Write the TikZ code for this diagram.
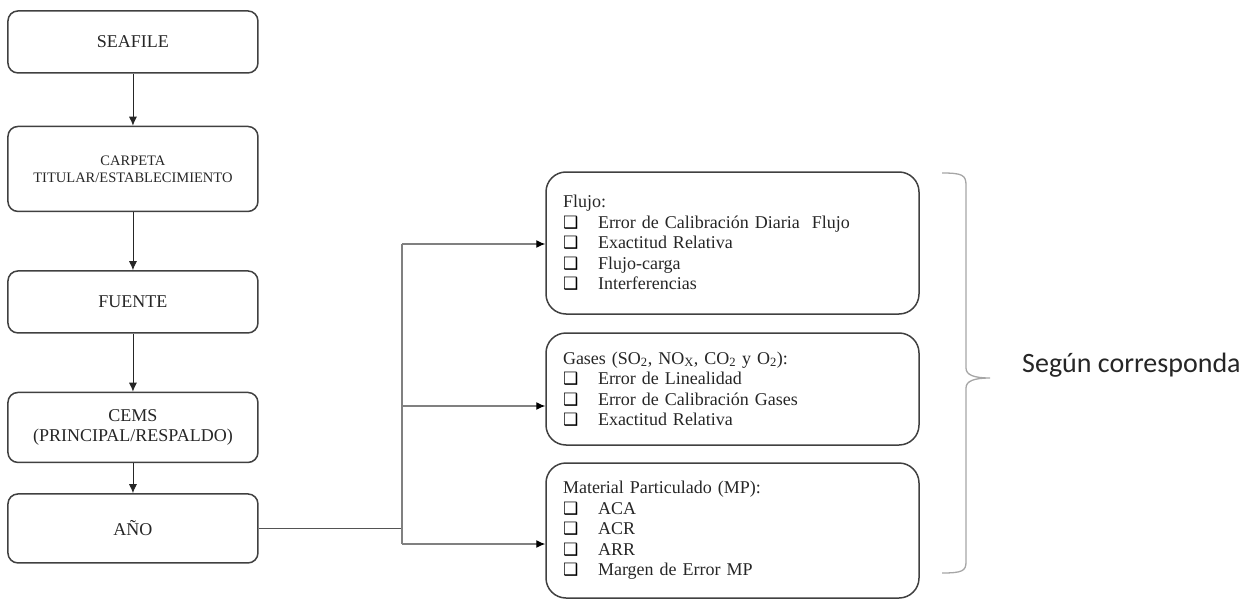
\documentclass[tikz,border=0pt]{standalone}
\usepackage{fontspec}
\usepackage{tikz}
\usetikzlibrary{arrows.meta}
\setmainfont{Liberation Serif}
\newfontfamily\calibri{Carlito}
\newfontfamily\dingfont{DejaVu Sans}

\definecolor{boxgray}{HTML}{404040}
\definecolor{wiregray}{HTML}{808080}
\definecolor{bracegray}{HTML}{A6A6A6}

% checkbox item inside the right boxes
\newcommand{\chkitem}[1]{\makebox[35pt][l]{\raisebox{0pt}{\dingfont\fontsize{17}{17}\selectfont\color{black}❑}}#1}

\begin{document}
\begin{tikzpicture} [
    x=1pt, y=-1pt,
    block/.style    = { rectangle, draw=boxgray, line width=1.5pt, rounded corners=10pt,
                        minimum width=250pt, align=center, text=black!85,
                        font=\fontsize{18}{20.5}\selectfont },
    group/.style    = { rectangle, draw=boxgray, line width=1.5pt, rounded corners=20pt,
                        text width=339pt, inner xsep=17pt, align=left, text=black!85,
                        font=\fontsize{18}{20.5}\selectfont },
    line/.style     = { draw, line width=0.9pt, black!85, -{Latex[length=9pt, width=8pt]} },
    branch/.style   = { draw, line width=1.2pt, wiregray },
    branchto/.style = { branch, -{Latex[length=9pt, width=8pt, color=black]} },
  ]
  \useasboundingbox (0,0) rectangle (1250,599);

  % Define nodes in matrix
  \matrix (chain) [row sep=58pt, inner sep=0pt, anchor=north west] at (7,10) {
\node[block, minimum height=62pt](seafile){SEAFILE}; \\[-6pt]
\node[block, minimum height=85pt, font=\fontsize{14.5}{17}\selectfont](carpeta){CARPETA\\TITULAR/ESTABLECIMIENTO}; \\
\node[block, minimum height=62pt](fuente){FUENTE}; \\
\node[block, minimum height=70pt](cems){CEMS\\(PRINCIPAL/RESPALDO)}; \\[-28pt]
\node[block, minimum height=69pt](anio){AÑO}; \\
  };

  % right hand boxes
  \node[group, minimum height=142pt](flujo) at (732.5,243){Flujo:\\
\chkitem{Error de Calibración Diaria\ \ Flujo}\\
\chkitem{Exactitud Relativa}\\
\chkitem{Flujo-carga}\\
\chkitem{Interferencias}};
  \node[group, minimum height=112pt](gases) at (732.5,389){Gases (SO\textsubscript{2}, NO\textsubscript{X}, CO\textsubscript{2} y O\textsubscript{2}):\\
\chkitem{Error de Linealidad}\\
\chkitem{Error de Calibración Gases}\\
\chkitem{Exactitud Relativa}};
  \node[group, minimum height=135pt](mp) at (732.5,530.5){Material Particulado (MP):\\
\chkitem{ACA}\\
\chkitem{ACR}\\
\chkitem{ARR}\\
\chkitem{Margen de Error MP}};

  \node[font=\calibri\fontsize{28}{30}\selectfont, text=black!85, anchor=west, inner sep=0pt](segun) at (1022,365){Según corresponda};

  % connect the nodes
		\path [line] (seafile) -- (carpeta);
		\path [line] (carpeta) -- (fuente);
		\path [line] (fuente) -- (cems);
		\path [line] (cems) -- (anio);

  \coordinate (split) at (402,0);
  \coordinate (toflujo) at (402,244);
  \coordinate (togases) at (402,406);
  \coordinate (tomp) at (402,544);
		\path [branch, line width=1.8pt, boxgray!90] (anio.east) -- (anio.east -| split);
		\path [branch] (toflujo) -- (tomp);
		\path [branchto] (toflujo) -- (toflujo -| flujo.west);
		\path [branchto] (togases) -- (togases -| gases.west);
		\path [branchto] (tomp) -- (tomp -| mp.west);

  % brace
  \draw[bracegray, line width=1.3pt] (942,173) .. controls (962,173) and (966,175) .. (966,185)
    -- (966,368) .. controls (966,375) and (974,378) .. (990,378)
    .. controls (974,378) and (966,381) .. (966,388)
    -- (966,562) .. controls (966,571) and (962,573) .. (942,573);
\end{tikzpicture}
\end{document}
